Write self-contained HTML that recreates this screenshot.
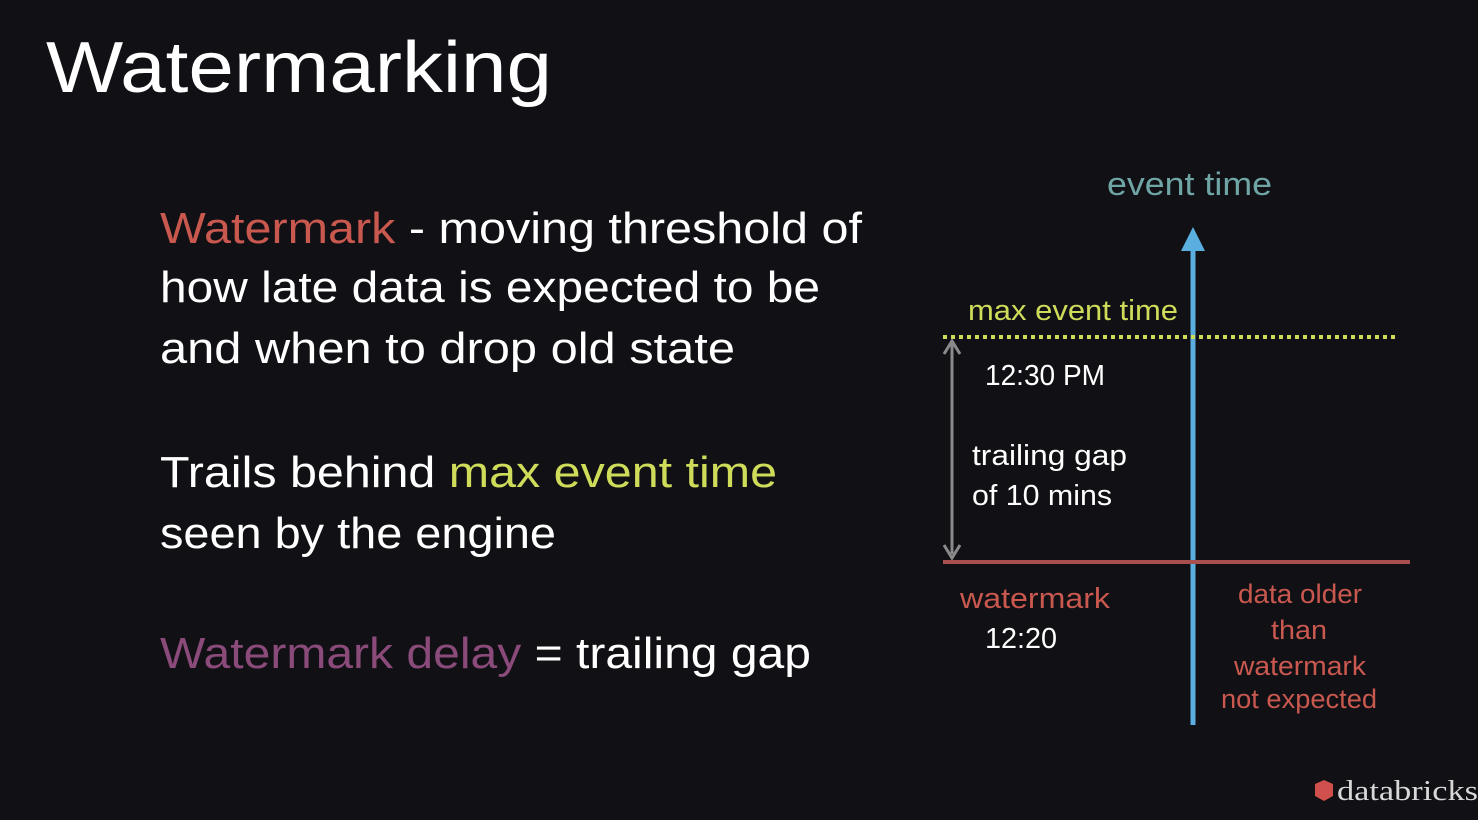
<!DOCTYPE html>
<html><head><meta charset="utf-8"><style>
html,body{margin:0;padding:0;background:#111015;}
svg{display:block;}
text{font-family:"Liberation Sans",sans-serif;}
</style></head><body>
<svg width="1478" height="820" viewBox="0 0 1478 820">
<rect width="1478" height="820" fill="#111015"/>
<text x="46" y="92" font-size="72" fill="#ffffff" textLength="506" lengthAdjust="spacingAndGlyphs">Watermarking</text>

<g font-size="44" fill="#ffffff">
<text x="160" y="243" textLength="702" lengthAdjust="spacingAndGlyphs"><tspan fill="#c9584f">Watermark</tspan> - moving threshold of</text>
<text x="160" y="302" textLength="660" lengthAdjust="spacingAndGlyphs">how late data is expected to be</text>
<text x="160" y="363" textLength="575" lengthAdjust="spacingAndGlyphs">and when to drop old state</text>
<text x="160" y="487" textLength="617" lengthAdjust="spacingAndGlyphs">Trails behind <tspan fill="#cfdc5a">max event time</tspan></text>
<text x="160" y="548" textLength="396" lengthAdjust="spacingAndGlyphs">seen by the engine</text>
<text x="160" y="668" textLength="651" lengthAdjust="spacingAndGlyphs"><tspan fill="#8a4a7a">Watermark delay</tspan> = trailing gap</text>
</g>

<g>
<text x="1107" y="195" font-size="32" fill="#6fa5a5" textLength="165" lengthAdjust="spacingAndGlyphs">event time</text>
<line x1="1193" y1="725" x2="1193" y2="248" stroke="#5aaee0" stroke-width="5"/>
<polygon points="1193,227 1181,251 1205,251" fill="#5aaee0"/>
<line x1="943" y1="337" x2="1398" y2="337" stroke="#cfdc5a" stroke-width="4" stroke-dasharray="4,4"/>
<text x="968" y="320" font-size="29" fill="#cfdc5a" textLength="210" lengthAdjust="spacingAndGlyphs">max event time</text>
<line x1="952" y1="344" x2="952" y2="554" stroke="#8a8a8a" stroke-width="3"/>
<polyline points="944,354 952,341 960,354" fill="none" stroke="#8a8a8a" stroke-width="3"/>
<polyline points="944,545 952,558 960,545" fill="none" stroke="#8a8a8a" stroke-width="3"/>
<text x="985" y="385" font-size="29" fill="#ffffff" textLength="120" lengthAdjust="spacingAndGlyphs">12:30 PM</text>
<text x="972" y="465" font-size="29" fill="#ffffff" textLength="155" lengthAdjust="spacingAndGlyphs">trailing gap</text>
<text x="972" y="505" font-size="29" fill="#ffffff" textLength="140" lengthAdjust="spacingAndGlyphs">of 10 mins</text>
<line x1="943" y1="562" x2="1410" y2="562" stroke="#a85050" stroke-width="4"/>
<text x="960" y="608" font-size="29" fill="#c9584f" textLength="150" lengthAdjust="spacingAndGlyphs">watermark</text>
<text x="985" y="648" font-size="29" fill="#ffffff" textLength="72" lengthAdjust="spacingAndGlyphs">12:20</text>
<g font-size="27" fill="#c9584f" text-anchor="middle">
<text x="1300" y="603" textLength="124" lengthAdjust="spacingAndGlyphs">data older</text>
<text x="1299" y="639" textLength="56" lengthAdjust="spacingAndGlyphs">than</text>
<text x="1300" y="675" textLength="132" lengthAdjust="spacingAndGlyphs">watermark</text>
<text x="1299" y="708" textLength="156" lengthAdjust="spacingAndGlyphs">not expected</text>
</g>
</g>

<g>
<polygon points="1324,780 1333,784 1333,796 1324,801 1315,796 1315,784" fill="#d0504d"/>
<text x="1337" y="800" font-family="Liberation Serif,serif" font-size="29" fill="#d8d8d8" textLength="141" lengthAdjust="spacingAndGlyphs" style="font-family:'Liberation Serif',serif">databricks</text>
</g>
</svg>
</body></html>
